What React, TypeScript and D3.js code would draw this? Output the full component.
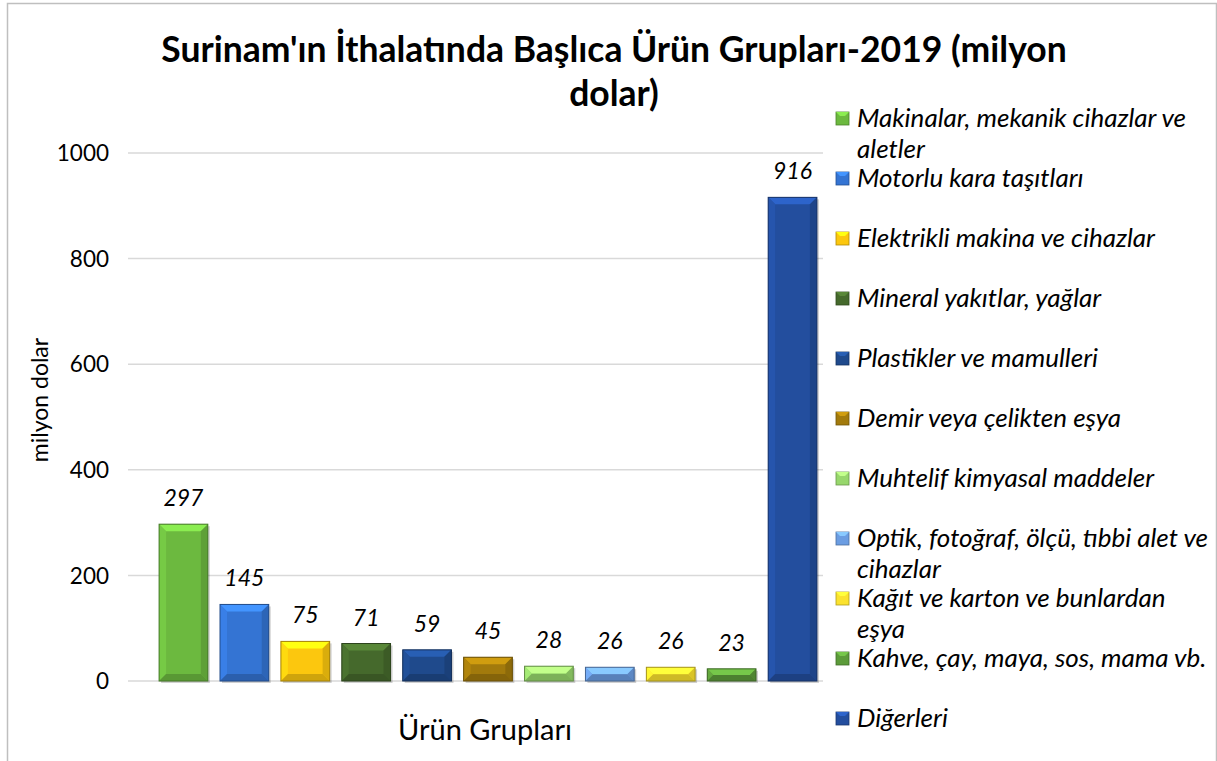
import React, { useRef, useEffect } from 'react';
import * as d3 from 'd3';

const categories = [
  'Makinalar, mekanik cihazlar ve aletler',
  'Motorlu kara taşıtları',
  'Elektrikli makina ve cihazlar',
  'Mineral yakıtlar, yağlar',
  'Plastikler ve mamulleri',
  'Demir veya çelikten eşya',
  'Muhtelif kimyasal maddeler',
  'Optik, fotoğraf, ölçü, tıbbi alet ve cihazlar',
  'Kağıt ve karton ve bunlardan eşya',
  'Kahve, çay, maya, sos, mama vb.',
  'Diğerleri',
];
// legend labels as they wrap in the original
const legendLines = [
  ['Makinalar, mekanik cihazlar ve', 'aletler'],
  ['Motorlu kara taşıtları'],
  ['Elektrikli makina ve cihazlar'],
  ['Mineral yakıtlar, yağlar'],
  ['Plastikler ve mamulleri'],
  ['Demir veya çelikten eşya'],
  ['Muhtelif kimyasal maddeler'],
  ['Optik, fotoğraf, ölçü, tıbbi alet ve', 'cihazlar'],
  ['Kağıt ve karton ve bunlardan', 'eşya'],
  ['Kahve, çay, maya, sos, mama vb.'],
  ['Diğerleri'],
];
const values = [297, 145, 75, 71, 59, 45, 28, 26, 26, 23, 916];
const colors = ['#6cb93f', '#3474d3', '#fcc70e', '#45692c', '#1f4a8c', '#a27a0c', '#97d76c', '#6b9de2', '#fbe22e', '#5c9b3a', '#234e9e'];
const yTicks = [0, 200, 400, 600, 800, 1000];
const titleLines = ["Surinam'ın İthalatında Başlıca Ürün Grupları-2019 (milyon", 'dolar)'];

const W = 1217, H = 761;
const FONT = 'Lato, "Open Sans", sans-serif';

export default function App() {
  const svgRef = useRef<SVGSVGElement | null>(null);

  useEffect(() => {
    if (!svgRef.current) return;
    const svg = d3.select(svgRef.current);
    svg.selectAll('*').remove();

    const plotLeft = 128, plotRight = 823, plotTop = 153, plotBottom = 681;
    const x = d3.scaleBand<string>().domain(categories).range([153, plotRight]).paddingInner(0.2).paddingOuter(0.1);
    const y = d3.scaleLinear().domain([0, 1000]).range([plotBottom, plotTop]);

    // chart border
    svg.append('rect').attr('x', 7.5).attr('y', 3.5).attr('width', 1209).attr('height', 800)
      .attr('fill', '#fff').attr('stroke', '#bfbfbf').attr('stroke-width', 1.5);

    // title
    const title = svg.append('text').attr('text-anchor', 'middle').attr('font-family', FONT)
      .attr('font-weight', 'bold').attr('font-size', 35.5).attr('fill', '#000');
    titleLines.forEach((t, i) => title.append('tspan').attr('x', 614).attr('y', 62 + i * 44).text(t));

    // gridlines + y ticks
    yTicks.forEach((t) => {
      svg.append('line').attr('x1', plotLeft).attr('x2', plotRight).attr('y1', y(t)).attr('y2', y(t))
        .attr('stroke', '#d9d9d9').attr('stroke-width', 1.5);
      svg.append('text').attr('x', 109).attr('y', y(t)).attr('dy', '0.36em').attr('text-anchor', 'end')
        .attr('font-family', FONT).attr('font-size', 22.5).attr('fill', '#000').text(t);
    });

    // axis titles
    svg.append('text').attr('transform', 'translate(40,400) rotate(-90)').attr('dy', '0.35em').attr('text-anchor', 'middle')
      .attr('font-family', FONT).attr('font-size', 23).attr('fill', '#000').text('milyon dolar');
    svg.append('text').attr('x', 485).attr('y', 740).attr('text-anchor', 'middle')
      .attr('font-family', FONT).attr('font-size', 29).attr('fill', '#000').text('Ürün Grupları');

    // bars with bevel
    const bw = x.bandwidth();
    categories.forEach((c, i) => {
      const x0 = x(c)!, y0 = y(values[i]), h = plotBottom - y0, x1 = x0 + bw, y1 = plotBottom;
      const base = d3.color(colors[i])!;
      const b = Math.min(7, h / 2);
      const g = svg.append('g');
      g.append('rect').attr('x', x0 + 2).attr('y', y0 + 2).attr('width', bw).attr('height', h)
        .attr('fill', 'rgba(0,0,0,0.18)');
      g.append('rect').attr('x', x0).attr('y', y0).attr('width', bw).attr('height', h).attr('fill', colors[i]);
      const poly = (pts: number[][], fill: string) =>
        g.append('polygon').attr('points', pts.map((p) => p.join(',')).join(' ')).attr('fill', fill);
      poly([[x0, y0], [x1, y0], [x1 - b, y0 + b], [x0 + b, y0 + b]], base.brighter(0.7).formatHex());
      poly([[x0, y0], [x0 + b, y0 + b], [x0 + b, y1 - b], [x0, y1]], base.brighter(0.25).formatHex());
      poly([[x1, y0], [x1, y1], [x1 - b, y1 - b], [x1 - b, y0 + b]], base.darker(0.4).formatHex());
      poly([[x0, y1], [x0 + b, y1 - b], [x1 - b, y1 - b], [x1, y1]], base.darker(0.55).formatHex());
      g.append('rect').attr('x', x0).attr('y', y0).attr('width', bw).attr('height', h)
        .attr('fill', 'none').attr('stroke', base.darker(1.2).formatHex()).attr('stroke-width', 1);
      svg.append('text').attr('x', x0 + bw / 2).attr('y', y0 - 18).attr('text-anchor', 'middle')
        .attr('font-family', FONT).attr('font-style', 'italic').attr('font-size', 23).attr('fill', '#000')
        .text(values[i]);
    });

    // legend
    categories.forEach((c, i) => {
      const cy = 118 + i * 60;
      const base = d3.color(colors[i])!;
      svg.append('rect').attr('x', 836).attr('y', cy - 6).attr('width', 13).attr('height', 13)
        .attr('fill', colors[i]).attr('stroke', base.darker(1).formatHex()).attr('stroke-width', 0.8);
      svg.append('polygon').attr('points', `836,${cy - 6} 849,${cy - 6} 845,${cy - 2} 840,${cy - 2}`)
        .attr('fill', base.brighter(0.7).formatHex());
      const text = svg.append('text').attr('font-family', FONT).attr('font-style', 'italic')
        .attr('font-size', 26).attr('fill', '#000');
      legendLines[i].forEach((ln, j) =>
        text.append('tspan').attr('x', 857).attr('y', cy + j * 31).attr('dy', '0.35em').text(ln));
    });
  }, []);

  return (
    <svg ref={svgRef} width={W} height={H} style={{ position: 'absolute', left: 0, top: 0, background: '#fff' }} />
  );
}
